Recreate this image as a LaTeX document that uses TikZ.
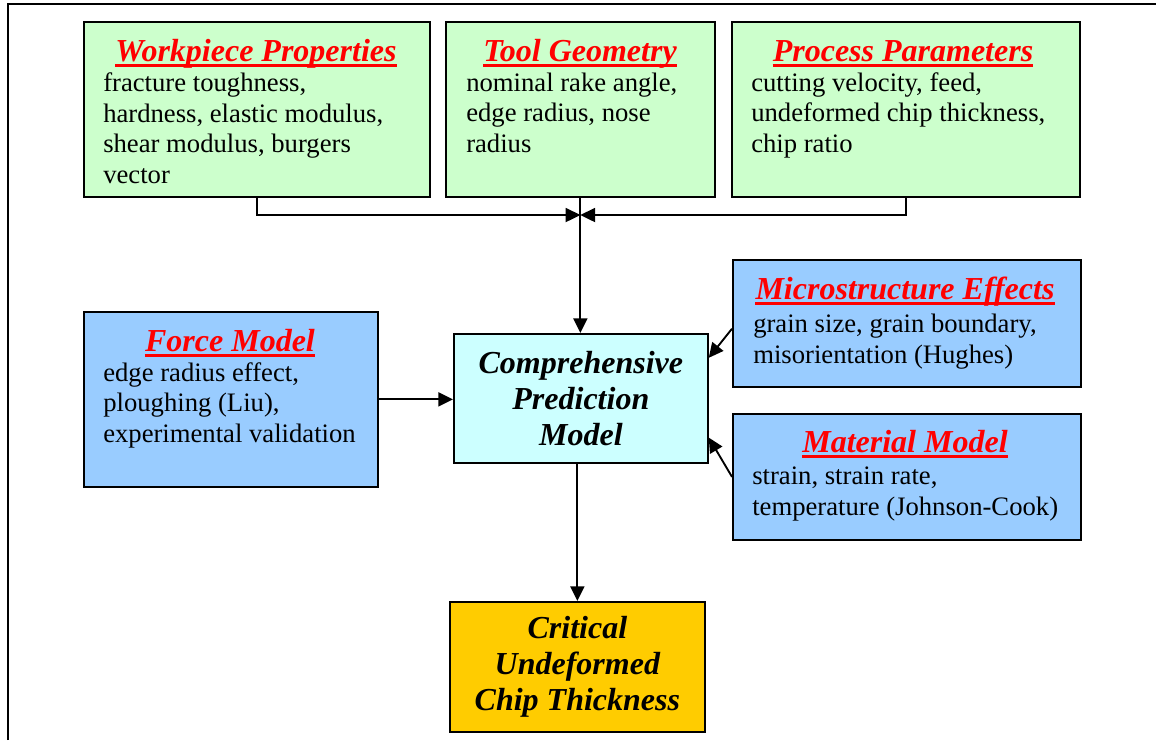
\documentclass[tikz,border=0pt]{standalone}
\usepackage{fontspec}
\setmainfont{Liberation Serif}
\usetikzlibrary{arrows.meta, positioning, calc}
\definecolor{InputGreen}{RGB}{204, 255, 204}
\definecolor{ModelBlue}{RGB}{153, 204, 255}
\definecolor{CoreCyan}{RGB}{204, 255, 255}
\definecolor{ResultGold}{RGB}{255, 204, 0}
\definecolor{TitleRed}{RGB}{255, 0, 0}

\begin{document}
\begin{tikzpicture}[x=0.75pt, y=-0.75pt,
    box/.style={draw, line width=1.3pt, anchor=north west, inner sep=0pt},
    boxsize/.style 2 args={minimum width=#1*0.75pt, minimum height=#2*0.75pt},
    boxtitle/.style={anchor=base, inner sep=0pt, text=TitleRed, font=\fontsize{24}{27}\selectfont\bfseries\itshape},
    bodytext/.style={anchor=base west, align=left, inner sep=0pt, font=\fontsize{20}{22.875}\selectfont},
    coretext/.style={align=center, font=\fontsize{24}{27}\selectfont\bfseries\itshape},
    link/.style={line width=1.4pt, -{Triangle[length=11pt, width=10.5pt]}}]
    \useasboundingbox (0,0) rectangle (1156,740);
    \draw[line width=1.2pt] (8,740) -- (8,4) -- (1156,4);

    % input boxes (body nodes sit on the baseline of their last line)
    \node[box, boxsize={346}{175}, fill=InputGreen] (wp) at (83,21) {};
    \node[box, boxsize={269}{175}, fill=InputGreen] (tg) at (445,21) {};
    \node[box, boxsize={348}{175}, fill=InputGreen] (pp) at (731,21) {};
    \node[boxtitle] (wptitle) at (256,61) {Workpiece Properties};
    \node[boxtitle] (tgtitle) at (580,61) {Tool Geometry};
    \node[boxtitle] (pptitle) at (903,61) {Process Parameters};
    \node[bodytext] (wpbody) at (103,183) {fracture toughness,\\hardness, elastic modulus,\\shear modulus, burgers\\vector};
    \node[bodytext] (tgbody) at (466,152) {nominal rake angle,\\edge radius, nose\\radius};
    \node[bodytext] (ppbody) at (751,152) {cutting velocity, feed,\\undeformed chip thickness,\\chip ratio};

    % model boxes
    \node[box, boxsize={294}{175}, fill=ModelBlue] (fm) at (83,311) {};
    \node[box, boxsize={348}{127}, fill=ModelBlue] (ms) at (732,259) {};
    \node[box, boxsize={348}{126}, fill=ModelBlue] (mm) at (732,413) {};
    \node[boxtitle] (fmtitle) at (230,351) {Force Model};
    \node[boxtitle] (mstitle) at (905,299) {Microstructure Effects};
    \node[boxtitle] (mmtitle) at (905,452) {Material Model};
    \node[bodytext] (fmbody) at (103,442) {edge radius effect,\\ploughing (Liu),\\experimental validation};
    \node[bodytext] (msbody) at (753,363) {grain size, grain boundary,\\misorientation (Hughes)};
    \node[bodytext] (mmbody) at (752,515) {strain, strain rate,\\temperature (Johnson-Cook)};

    \foreach \t in {wptitle, tgtitle, pptitle, fmtitle, mstitle, mmtitle}
        \draw[TitleRed, line width=2.2pt] ([yshift=-3.6pt]\t.base west) -- ([yshift=-3.6pt]\t.base east);

    % prediction and result
    \node[box, boxsize={254}{129}, fill=CoreCyan, coretext] (cp) at (453,333) {Comprehensive\\Prediction\\Model};
    \node[box, boxsize={255}{130}, fill=ResultGold, coretext] (ct) at (449,601) {Critical\\Undeformed\\Chip Thickness};

    \coordinate (join) at (tg.south |- 0,215);
    \draw[link] (wp.south) |- (join);
    \draw[link] (pp.south) |- (join);
    \draw[link] (tg.south) -- (tg.south |- cp.north);
    \draw[link] (fm.east) -- (fm.east -| cp.west);
    \draw[link] ([yshift=-4pt]ms.west) -- ($(cp.north east)!0.19!(cp.south east)$);
    \draw[link] (mm.west) -- ($(cp.north east)!0.8!(cp.south east)$);
    \draw[link] (ct.north |- cp.south) -- (ct.north);
\end{tikzpicture}
\end{document}
